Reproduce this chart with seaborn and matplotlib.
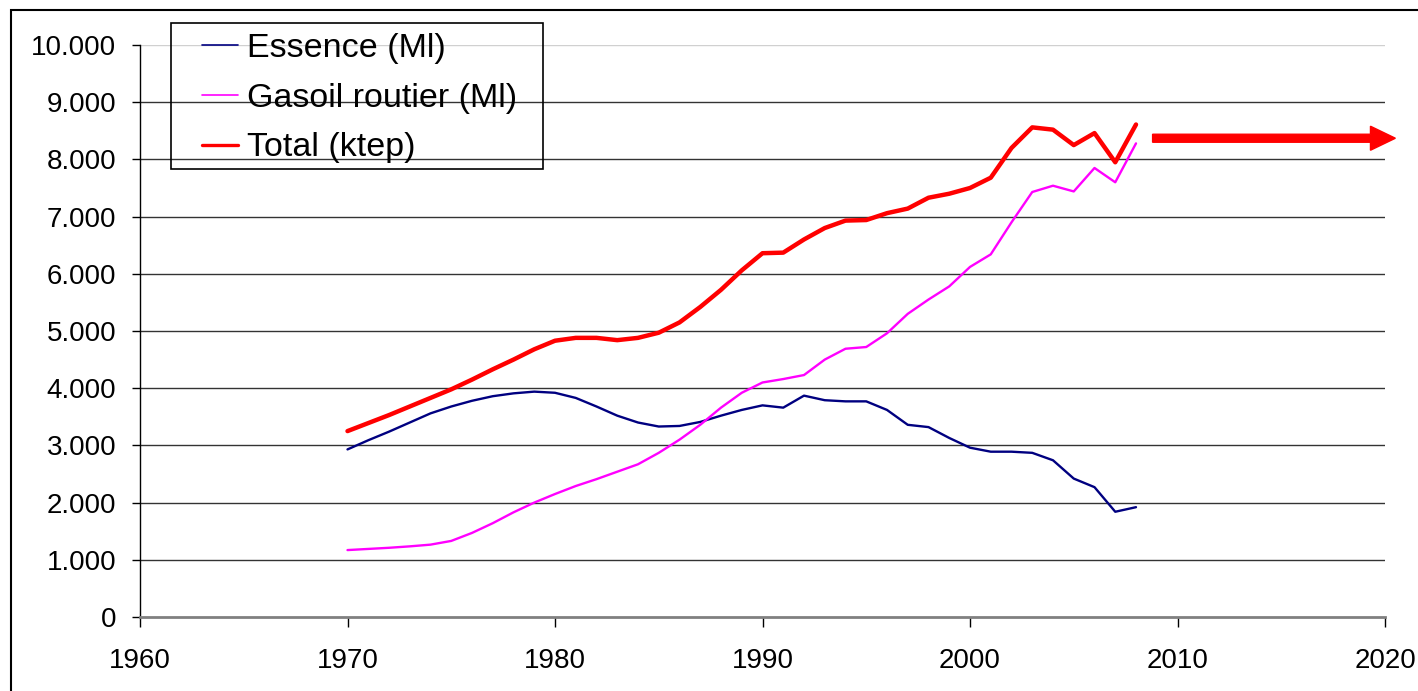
import numpy as np
import pandas as pd
import seaborn as sns
import matplotlib.pyplot as plt
from matplotlib.lines import Line2D
from matplotlib.patches import Rectangle
from matplotlib.ticker import FuncFormatter

years = list(range(1970, 2009))

essence = [2930, 3090, 3240, 3400, 3560, 3680, 3780, 3860, 3910, 3940,
           3920, 3830, 3680, 3520, 3400, 3330, 3340, 3410, 3520, 3620,
           3700, 3660, 3870, 3790, 3770, 3770, 3620, 3360, 3320, 3130,
           2960, 2890, 2890, 2870, 2740, 2420, 2270, 1840, 1920]

gasoil = [1170, 1190, 1210, 1235, 1265, 1330, 1470, 1640, 1830, 2000,
          2150, 2290, 2410, 2540, 2670, 2870, 3100, 3360, 3660, 3920,
          4100, 4160, 4230, 4500, 4690, 4720, 4960, 5300, 5550, 5780,
          6120, 6340, 6900, 7430, 7540, 7440, 7850, 7600, 8280]

total = [3250, 3390, 3530, 3680, 3830, 3980, 4150, 4330, 4500, 4680,
         4830, 4880, 4880, 4840, 4880, 4970, 5150, 5420, 5720, 6060,
         6360, 6370, 6600, 6800, 6930, 6940, 7060, 7140, 7330, 7400,
         7500, 7680, 8200, 8560, 8520, 8250, 8460, 7950, 8610]

labels = ["Essence (Ml)", "Gasoil routier (Ml)", "Total (ktep)"]
colors = ["#000080", "#FF00FF", "#FF0000"]

sns.set_theme(style="white")
plt.rcParams['font.family'] = ['Liberation Sans', 'DejaVu Sans']
plt.rcParams['text.color'] = 'black'

df = pd.DataFrame({"year": years, labels[0]: essence,
                   labels[1]: gasoil, labels[2]: total})

fig = plt.figure(figsize=(14.18, 6.91), dpi=100)
ax = fig.add_axes([140 / 1418, 74 / 691, 1245 / 1418, 572 / 691])

widths = [1.7, 1.7, 3.2]
for lab, col, lw in zip(labels, colors, widths):
    sns.lineplot(data=df, x="year", y=lab, color=col, linewidth=lw, ax=ax)

ax.set_xlim(1960, 2020)
ax.set_ylim(0, 10000)
ax.set_xticks(range(1960, 2021, 10))
ax.set_yticks(range(0, 10001, 1000))
ax.yaxis.set_major_formatter(FuncFormatter(lambda v, p: f"{int(v):,}".replace(",", ".")))
ax.set_xlabel("")
ax.set_ylabel("")

ax.yaxis.grid(True, color="#333333", linewidth=1)
ax.get_ygridlines()[-1].set_color("#d0d0d0")
ax.get_ygridlines()[0].set_visible(False)

for s in ["top", "right"]:
    ax.spines[s].set_visible(False)
ax.spines["left"].set_color("black")
ax.spines["left"].set_linewidth(1)
ax.spines["bottom"].set_color("#808080")
ax.spines["bottom"].set_linewidth(2)

ax.tick_params(axis="y", direction="out", length=6, width=1, color="black",
               labelsize=20, pad=11, left=True, labelcolor="black")
ax.tick_params(axis="x", direction="out", length=7, width=1, color="black",
               labelsize=20, pad=15, bottom=True, labelcolor="black")

# tendency arrow
ax.arrow(2008.8, 8370, 10.5, 0, width=140, head_width=420, head_length=1.2,
         length_includes_head=False, color="#FF0000", clip_on=False)

# legend
handles = [Line2D([], [], color=c, linewidth=w) for c, w in zip(colors, [1.2, 1.2, 2.4])]
leg = ax.legend(handles, labels, loc="upper left", frameon=False, fontsize=24.5,
                bbox_to_anchor=(201.7 / 1418, 1 - 33 / 691), bbox_transform=fig.transFigure,
                borderpad=0, handlelength=1.07, handletextpad=0.26, labelspacing=0.55,
                borderaxespad=0)
for t in leg.get_texts():
    t.set_color("black")
fig.patches.append(Rectangle((171 / 1418, 1 - 169 / 691), 372 / 1418, 146 / 691,
                             transform=fig.transFigure, fill=False,
                             edgecolor="black", linewidth=1.2, zorder=5))

# outer frame
fig.patches.append(Rectangle((11 / 1418, -0.2), 1.2, 1.2 + (681 / 691) - 1,
                             transform=fig.transFigure, fill=False,
                             edgecolor="black", linewidth=1.5))

fig.savefig("out.png", dpi=100, facecolor="white")
